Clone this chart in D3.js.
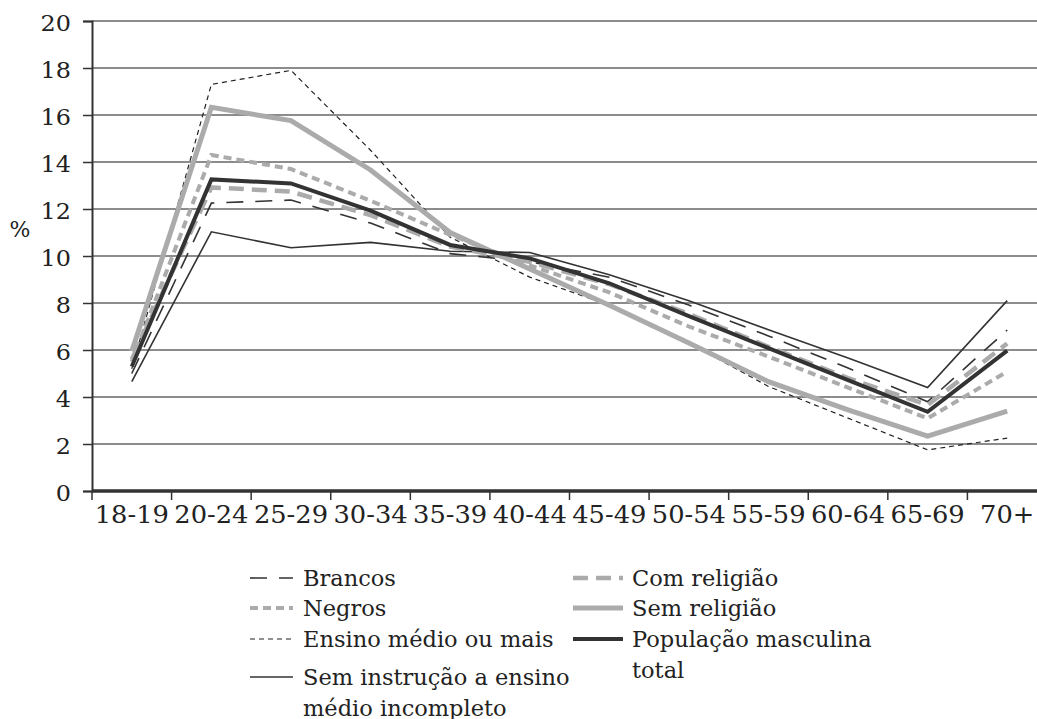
<!DOCTYPE html>
<html><head><meta charset="utf-8">
<script src="https://cdn.jsdelivr.net/npm/d3@7"></script>
<style>body{margin:0;background:#fff}svg{display:block}</style>
</head><body><svg id="c" width="1037" height="719"></svg>
<script>
const categories = ["18-19","20-24","25-29","30-34","35-39","40-44","45-49","50-54","55-59","60-64","65-69","70+"];
const yTicks = [0,2,4,6,8,10,12,14,16,18,20];
const brancos      = [5.0, 12.25, 12.38, 11.4, 10.1, 9.75, 9.1, 7.91, 6.6, 5.23, 3.8, 6.85];
const negros       = [5.5, 14.3, 13.7, 12.35, 10.9, 9.6, 8.45, 7.0, 5.72, 4.4, 3.09, 5.08];
const ensinoMedio  = [5.2, 17.3, 17.9, 14.5, 10.8, 9.1, 7.9, 6.3, 4.45, 3.1, 1.75, 2.25];
const semInstrucao = [4.65, 11.03, 10.35, 10.58, 10.2, 10.15, 9.2, 8.1, 6.86, 5.66, 4.4, 8.1];
const comReligiao  = [5.6, 12.92, 12.74, 11.74, 10.4, 9.75, 8.8, 7.53, 6.14, 4.8, 3.66, 6.28];
const semReligiao  = [5.95, 16.33, 15.76, 13.66, 11.0, 9.45, 7.9, 6.3, 4.65, 3.45, 2.33, 3.4];
const populacao    = [5.3, 13.26, 13.09, 11.93, 10.47, 9.9, 8.84, 7.44, 6.08, 4.72, 3.37, 5.97];

const series = [
  {name:"Ensino médio ou mais", values:ensinoMedio, color:"#222", width:1.2, dash:"5,4", col:0, row:2},
  {name:"Sem instrução a ensino|médio incompleto", values:semInstrucao, color:"#333", width:1.6, dash:null, col:0, row:3},
  {name:"Brancos", values:brancos, color:"#333", width:1.6, dash:"17,12", col:0, row:0},
  {name:"Sem religião", values:semReligiao, color:"#ababab", width:5, dash:null, col:1, row:1},
  {name:"Negros", values:negros, color:"#ababab", width:4, dash:"8,5", col:0, row:1},
  {name:"Com religião", values:comReligiao, color:"#ababab", width:4.5, dash:"15,8", col:1, row:0},
  {name:"População masculina|total", values:populacao, color:"#333", width:4, dash:null, col:1, row:2}
];

const FONT = "'DejaVu Serif', 'Liberation Serif', 'Noto Serif', serif";
const svg = d3.select("#c");
const pL = 92, pR = 1047, pT = 21, pB = 491;
const x = d3.scaleBand().domain(categories).range([pL, pR]);
const y = d3.scaleLinear().domain([0, 20]).range([pB, pT]);

// grid
svg.append("g").selectAll("line").data(yTicks.filter(d => d > 0)).join("line")
  .attr("x1", pL).attr("x2", pR).attr("y1", d => y(d)).attr("y2", d => y(d))
  .attr("stroke", "#666").attr("stroke-width", 1.6);

// y axis
const ya = svg.append("g").attr("transform", `translate(${pL},0)`)
  .call(d3.axisLeft(y).tickValues(yTicks).tickSize(9).tickPadding(12));
ya.attr("font-family", null).attr("font-size", null);
ya.select(".domain").attr("stroke", "#333").attr("stroke-width", 2);
ya.selectAll(".tick line").attr("stroke", "#333").attr("stroke-width", 1.5);
ya.selectAll(".tick text").style("font-family", FONT).style("font-size", "23px").attr("fill", "#222")
  .attr("x", 0).attr("dy", "0.36em").attr("transform", "translate(-21,1) scale(1.04,1)");

// x axis
const xa = svg.append("g").attr("transform", `translate(0,${pB})`)
  .call(d3.axisBottom(x).tickSize(0).tickPadding(0));
xa.attr("font-family", null).attr("font-size", null);
xa.select(".domain").remove();
xa.selectAll(".tick text").style("font-family", FONT).style("font-size", "25px").attr("fill", "#222")
  .attr("y", 0).attr("dy", 0).attr("transform", "translate(0,32) scale(1.03,1)");
svg.append("g").selectAll("line").data(categories).join("line")
  .attr("x1", d => x(d)).attr("x2", d => x(d)).attr("y1", pB).attr("y2", pB + 9)
  .attr("stroke", "#333").attr("stroke-width", 1.5);
svg.append("line").attr("x1", pL).attr("x2", pR).attr("y1", pB).attr("y2", pB)
  .attr("stroke", "#333").attr("stroke-width", 3.5);

svg.append("text").attr("transform", "translate(20,237)").attr("text-anchor", "middle")
  .style("font-family", FONT).style("font-size", "22px").attr("fill", "#222").text("%");

// lines
const line = d3.line().x((d, i) => x(categories[i]) + x.bandwidth() / 2).y(d => y(d));
svg.append("g").selectAll("path").data(series).join("path")
  .attr("d", d => line(d.values)).attr("fill", "none")
  .attr("stroke", d => d.color).attr("stroke-width", d => d.width)
  .attr("stroke-dasharray", d => d.dash).attr("stroke-linejoin", "miter");

// legend
const colX = [250, 573], colW = [43, 50], textX = [303, 632];
const rowY = [[578, 608, 639, 677], [578, 608, 639]];
const lg = svg.append("g");
series.forEach(s => {
  const yy = rowY[s.col][s.row];
  lg.append("line").attr("x1", colX[s.col]).attr("x2", colX[s.col] + colW[s.col])
    .attr("y1", yy).attr("y2", yy).attr("stroke", s.color).attr("stroke-width", s.width)
    .attr("stroke-dasharray", s.dash);
  const t = lg.append("text").attr("transform", `translate(${textX[s.col]},${yy + 8})`)
    .style("font-family", FONT).style("font-size", "22.5px").attr("fill", "#222");
  s.name.split("|").forEach((part, i) => {
    t.append("tspan").attr("x", 0).attr("dy", i === 0 ? 0 : 30.5).text(part);
  });
});
</script></body></html>
